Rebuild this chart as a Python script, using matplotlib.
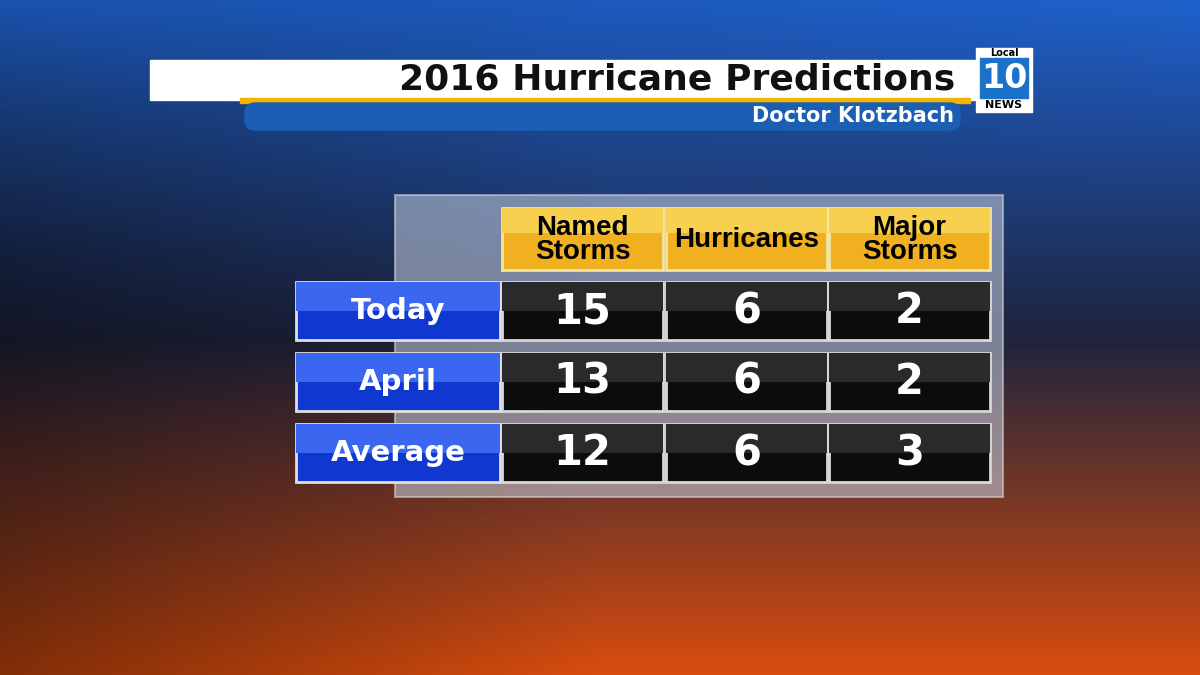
import numpy as np
import matplotlib.pyplot as plt
from matplotlib.patches import Rectangle, FancyBboxPatch

title = '2016 Hurricane Predictions'
subtitle = 'Doctor Klotzbach'
columns = ['Named\nStorms', 'Hurricanes', 'Major\nStorms']
rows = ['Today', 'April', 'Average']
values = [[15, 6, 2],
          [13, 6, 2],
          [12, 6, 3]]

W, H = 1200, 675
fig = plt.figure(figsize=(12, 6.75), dpi=100)
ax = fig.add_axes([0, 0, 1, 1])
ax.set_xlim(0, W)
ax.set_ylim(H, 0)
ax.axis('off')

# background gradient: blue on top, dark middle, orange/red at bottom
yy = np.linspace(0, 1, 200)[:, None, None]
xx = np.linspace(0, 1, 300)[None, :, None]
top = np.array([0.12, 0.38, 0.80])
mid = np.array([0.12, 0.14, 0.24])
bot = np.array([0.85, 0.30, 0.05])
col = np.where(yy < 0.5, top + (mid - top) * (yy / 0.5), mid + (bot - mid) * ((yy - 0.5) / 0.5))
w = np.clip(yy / 0.4, 0, 1)  # left-side darkening fades in below the top
shade = (1 - w) * (0.85 + 0.15 * xx) + w * (0.6 + 0.4 * np.clip(xx * 2.0, 0, 1))
col = col * shade
ax.imshow(np.clip(col, 0, 1), extent=[0, W, H, 0], aspect='auto', zorder=0)

# title banner
ax.add_patch(Rectangle((150, 60), 825, 40, color='white', zorder=2))
ax.add_patch(Rectangle((240, 98), 730, 5, color='#f2b400', zorder=2))
ax.add_patch(FancyBboxPatch((245, 103), 715, 27, boxstyle='round,pad=0,rounding_size=10',
                            color='#1a5fb4', zorder=2))
ax.text(955, 79, title, ha='right', va='center', fontsize=26, fontweight='bold',
        color='#111111', zorder=3)
ax.text(954, 116, subtitle, ha='right', va='center', fontsize=15, fontweight='bold',
        color='white', zorder=3)

# logo
ax.add_patch(Rectangle((976, 48), 56, 64, color='white', zorder=3))
ax.add_patch(Rectangle((980, 58), 48, 40, color='#1a73c8', zorder=3))
ax.text(1004, 53, 'Local', ha='center', va='center', fontsize=7, fontweight='bold', color='black', zorder=4)
ax.text(1004, 78, '10', ha='center', va='center', fontsize=24, fontweight='bold', color='white', zorder=4)
ax.text(1004, 105, 'NEWS', ha='center', va='center', fontsize=8, fontweight='bold', color='black', zorder=4)

# table panel
ax.add_patch(Rectangle((395, 195), 608, 302, facecolor='#c8d0e0', alpha=0.55,
                       edgecolor='#dddddd', lw=1.5, zorder=2))

col_x = [502, 666, 829]
col_w = 161
row_y = [282, 353, 424]
row_h = 58

for j, name in enumerate(columns):
    ax.add_patch(Rectangle((col_x[j], 208), col_w, 62, facecolor='#f0b020',
                           edgecolor='#f5e6a0', lw=2, zorder=3))
    ax.add_patch(Rectangle((col_x[j], 208), col_w, 25, facecolor='#f8d050', lw=0, zorder=3))
    ax.text(col_x[j] + col_w / 2, 240, name, ha='center', va='center', fontsize=20,
            fontweight='bold', family='Liberation Sans',
            color='black', linespacing=0.9, zorder=4)

for i, name in enumerate(rows):
    ax.add_patch(Rectangle((296, row_y[i]), 204, row_h, facecolor='#1038d0',
                           edgecolor='#e0e0e0', lw=2, zorder=3))
    ax.add_patch(Rectangle((296, row_y[i]), 204, row_h / 2, facecolor='#3a66f0', lw=0, zorder=3))
    ax.text(398, row_y[i] + row_h / 2, name, ha='center', va='center', fontsize=21,
            fontweight='bold', color='white', zorder=4)
    for j, v in enumerate(values[i]):
        ax.add_patch(Rectangle((col_x[j], row_y[i]), col_w, row_h, facecolor='#0c0c0c',
                               edgecolor='#d8d8d8', lw=2, zorder=3))
        ax.add_patch(Rectangle((col_x[j], row_y[i]), col_w, row_h / 2, facecolor='#2a2a2a', lw=0, zorder=3))
        ax.text(col_x[j] + col_w / 2, row_y[i] + row_h / 2, str(v), ha='center', va='center',
                fontsize=30, fontweight='bold', color='white', zorder=4)

fig.savefig('out.png', dpi=100)
